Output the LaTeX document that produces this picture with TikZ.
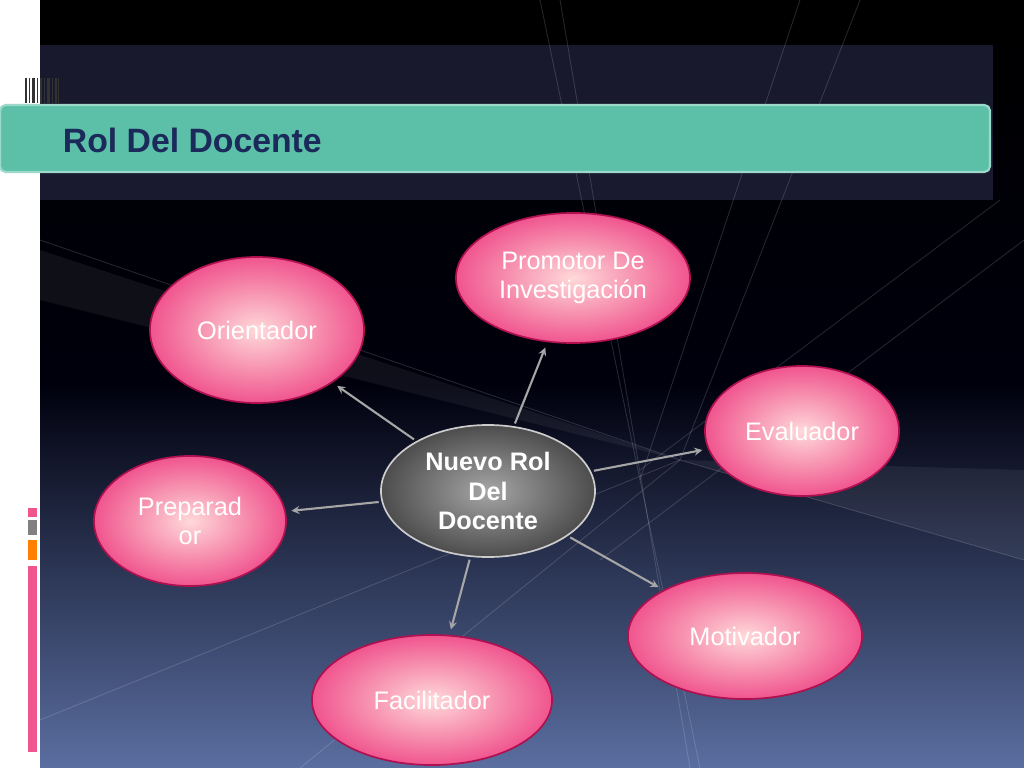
\documentclass[tikz,border=0pt]{standalone}
\usepackage{fontspec}
\setmainfont{Liberation Sans}
\usetikzlibrary{shapes.geometric}
\definecolor{pinkfill}{HTML}{F0558E}
\definecolor{pinkedge}{HTML}{B0104F}
\definecolor{teal}{HTML}{5CC0A8}
\definecolor{navy}{HTML}{1B2A5A}
\tikzset{
  rolnode/.style={ellipse, draw=pinkedge, line width=1.2pt, inner color=pink!60!white, outer color=pinkfill,
    text=white, font=\fontsize{18}{21}\selectfont, align=center},
  roledge/.style={-stealth, draw=gray!70, line width=1.5pt, shorten >=4pt, shorten <=2pt},
  ray/.style={draw=white, opacity=0.15, line width=0.6pt}
}
\begin{document}
\begin{tikzpicture}[x=0.025cm, y=-0.025cm]
  \useasboundingbox (0,0) rectangle (1024,768);
  % Background
  \fill[top color=black, bottom color={rgb,255:red,90;green,110;blue,160}, middle color=black!95!blue] (40,0) rectangle (1024,768);
  \fill[white] (0,0) rectangle (40,768);
  \fill[black!75!blue!60!gray, opacity=0.5] (40,45) rectangle (993,200);
  % Rays
  \foreach \a/\b in {{540,0}/{700,768}, {560,0}/{690,768}, {800,0}/{640,480}, {1000,200}/{640,470}, {40,240}/{680,460}, {1024,560}/{680,460}, {40,720}/{680,460}, {860,0}/{680,460}, {1024,240}/{600,560}, {300,768}/{680,460}}
    \draw[ray] (\a) -- (\b);
  \fill[white, opacity=0.06] (40,250) -- (680,460) -- (40,300) -- cycle;
  \fill[white, opacity=0.06] (1024,470) -- (680,460) -- (1024,560) -- cycle;
  % Title bar
  \fill[teal, rounded corners=4pt, draw=teal!60!white, line width=1.5pt] (0,105) rectangle (990,172);
  \node[anchor=west, text=navy, font=\fontsize{24}{28}\selectfont\bfseries] (title) at (58,140) {Rol Del Docente};
  % Barcode
  \foreach \x/\w in {25/2,29/1,32/3,37/1,40/2,44/1,47/3,52/1,55/2,58/1}
    \fill[black!80] (\x,78) rectangle ++(\w,25);
  % Side marks
  \fill[pinkfill] (28,508) rectangle (37,517);
  \fill[gray] (28,520) rectangle (37,535);
  \fill[orange] (28,540) rectangle (37,560);
  \fill[pinkfill] (28,566) rectangle (37,752);
  % Nodes
  \node[rolnode, minimum width=5.85cm, minimum height=3.25cm] (prom) at (573,278) {Promotor De\\Investigación};
  \node[rolnode, minimum width=5.35cm, minimum height=3.65cm] (orie) at (257,330) {Orientador};
  \node[rolnode, minimum width=4.85cm, minimum height=3.25cm] (eval) at (802,431) {Evaluador};
  \node[rolnode, minimum width=4.8cm, minimum height=3.25cm] (prep) at (190,521) {Preparad\\or};
  \node[rolnode, minimum width=5.85cm, minimum height=3.15cm] (moti) at (745,636) {Motivador};
  \node[rolnode, minimum width=6cm, minimum height=3.25cm] (faci) at (432,700) {Facilitador};
  \node[ellipse, draw=gray!40, line width=1.2pt, inner color=gray!70, outer color=black!70, text=white,
    font=\fontsize{18}{21}\selectfont\bfseries, align=center, minimum width=5.35cm, minimum height=3.3cm] (nuevo) at (488,491) {Nuevo Rol\\Del\\Docente};
  % Edges
  \draw[roledge] (nuevo) -- (orie);
  \draw[roledge] (nuevo) -- (prom);
  \draw[roledge] (nuevo) -- (eval);
  \draw[roledge] (nuevo) -- (prep);
  \draw[roledge] (nuevo) -- (moti);
  \draw[roledge] (nuevo) -- (faci);
\end{tikzpicture}
\end{document}
